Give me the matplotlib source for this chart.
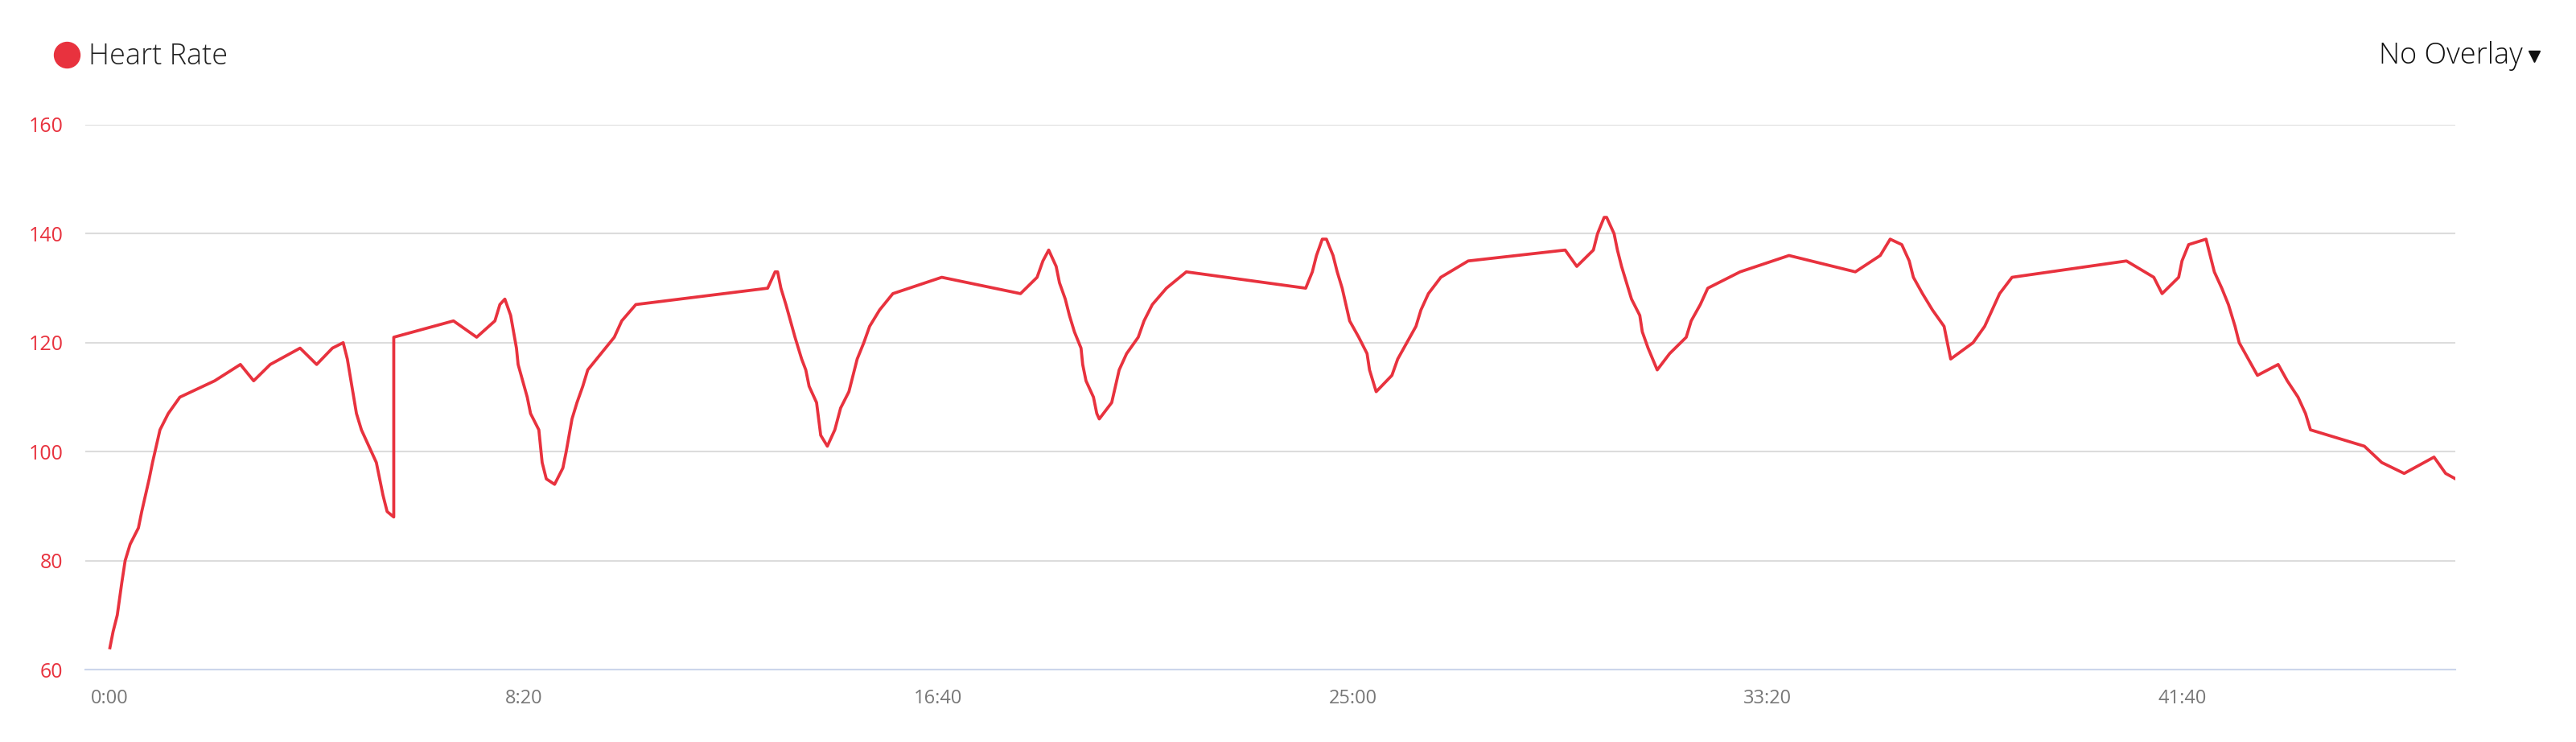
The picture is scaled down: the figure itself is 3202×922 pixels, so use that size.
import matplotlib.pyplot as plt
from matplotlib.lines import Line2D
from matplotlib.ticker import FuncFormatter

# elapsed time in seconds and heart rate in bpm
seconds = [
    0.6, 4.5, 9.5, 15, 19, 25, 35, 39, 48, 52, 61, 71, 85, 127, 158, 174, 194,
    230, 250, 269, 282, 287, 298, 304, 313, 322, 326, 330, 335, 343, 343, 415,
    443, 465, 471, 477, 484, 491, 493, 504, 508, 518, 520, 522, 527, 537, 547,
    551, 558, 564, 571, 577, 609, 618, 635, 794, 803, 806, 810, 816, 827, 835,
    840, 844, 853, 858, 866, 875, 882, 892, 902, 910, 917, 929, 945, 1004,
    1099, 1119, 1126, 1133, 1142, 1146, 1153, 1158, 1164, 1172, 1174, 1178,
    1187, 1191, 1194, 1209, 1218, 1227, 1241, 1248, 1258, 1275, 1299, 1443,
    1451, 1456, 1463, 1468, 1476, 1481, 1487, 1496, 1507, 1517, 1520, 1528,
    1547, 1554, 1565, 1576, 1582, 1591, 1606, 1639, 1756, 1770, 1790, 1795,
    1803, 1806, 1815, 1819, 1824, 1830, 1836, 1846, 1849, 1856, 1867, 1882,
    1902, 1908, 1919, 1928, 1967, 2026, 2106, 2136, 2148, 2162, 2171, 2176,
    2187, 2199, 2213, 2217, 2221, 2248, 2262, 2280, 2295, 2433, 2466, 2476,
    2496, 2500, 2508, 2529, 2534, 2539, 2548, 2556, 2564, 2569, 2580, 2591,
    2616, 2627, 2640, 2649, 2655, 2720, 2741, 2768, 2804, 2818, 2830,
]
heart_rate = [
    64, 67, 70, 76, 80, 83, 86, 89, 95, 98, 104, 107, 110, 113, 116, 113, 116,
    119, 116, 119, 120, 117, 107, 104, 101, 98, 95, 92, 89, 88, 121, 124,
    121, 124, 127, 128, 125, 119, 116, 110, 107, 104, 101, 98, 95, 94, 97,
    100, 106, 109, 112, 115, 121, 124, 127, 130, 133, 133, 130, 127, 121, 117,
    115, 112, 109, 103, 101, 104, 108, 111, 117, 120, 123, 126, 129, 132,
    129, 132, 135, 137, 134, 131, 128, 125, 122, 119, 116, 113,
    110, 107, 106, 109, 115, 118, 121, 124, 127, 130, 133, 130,
    133, 136, 139, 139, 136, 133, 130, 124, 121, 118, 115, 111,
    114, 117, 120, 123, 126, 129, 132, 135, 137, 134, 137, 140,
    143, 143, 140, 137, 134, 131, 128, 125, 122, 119, 115, 118,
    121, 124, 127, 130, 133, 136, 133, 136, 139, 138, 135, 132,
    129, 126, 123, 120, 117, 120, 123, 129, 132, 135, 132, 129,
    132, 135, 138, 139, 136, 133, 130, 127, 123, 120, 117, 114,
    116, 113, 110, 107, 104, 101, 98, 96, 99, 96, 95,
]
y_ticks = [60, 80, 100, 120, 140, 160]
x_ticks = [0, 500, 1000, 1500, 2000, 2500]

RED = "#e8323e"
W, H = 3202, 922


def mmss(value, pos):
    value = int(round(value))
    return f"{value // 60}:{value % 60:02d}"


def main():
    plt.rcParams["font.family"] = ["Open Sans", "DejaVu Sans"]
    fig = plt.figure(figsize=(W / 100, H / 100), dpi=100)
    ax = fig.add_axes([106 / W, 1 - 832 / H, (3052 - 106) / W, (832 - 155) / H])

    ax.plot(seconds, heart_rate, color=RED, lw=2.7, solid_joinstyle="round")

    ax.set_xlim(-29.1, 2829.7)
    ax.set_ylim(60, 160)
    ax.set_yticks(y_ticks)
    ax.set_xticks(x_ticks)
    ax.xaxis.set_major_formatter(FuncFormatter(mmss))
    ax.yaxis.grid(True, color="#dcdcdc", lw=1.5)
    ax.set_axisbelow(True)
    for side in ["top", "right", "left"]:
        ax.spines[side].set_visible(False)
    ax.spines["bottom"].set_color("#ccd6eb")
    ax.spines["bottom"].set_linewidth(1.5)
    ax.tick_params(axis="y", length=0, pad=20, labelsize=18, labelcolor=RED)
    ax.tick_params(axis="x", length=0, pad=17, labelsize=17, labelcolor="#777777")

    # legend dot and title
    fig.add_artist(Line2D([83 / W], [1 - 68 / H], marker="o", markersize=23,
                          color=RED, transform=fig.transFigure))
    fig.text(110 / W, 1 - 70 / H, "Heart Rate", fontsize=26, fontweight="light",
             color="#222222", ha="left", va="center")

    fig.text(3136 / W, 1 - 69 / H, "No Overlay", fontsize=26, fontweight="light",
             color="#111111", ha="right", va="center")
    fig.add_artist(Line2D([3150 / W], [1 - 70 / H], marker="v", markersize=10,
                          color="#111111", transform=fig.transFigure))

    fig.savefig("out.png", dpi=100, facecolor="white")


if __name__ == "__main__":
    main()
